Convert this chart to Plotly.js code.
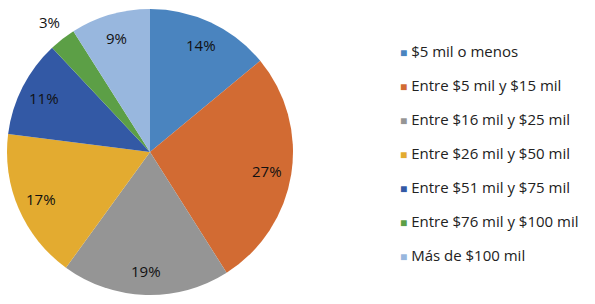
<!DOCTYPE html>
<html>
<head>
<meta charset="utf-8">
<script src="https://cdn.plot.ly/plotly-3.0.1.min.js"></script>
<style>html,body{margin:0;padding:0;background:#fff}#chart{width:595px;height:304px}</style>
</head>
<body>
<div id="chart"></div>
<script>
var categories = ["$5 mil o menos", "Entre $5 mil y $15 mil", "Entre $16 mil y $25 mil",
  "Entre $26 mil y $50 mil", "Entre $51 mil y $75 mil", "Entre $76 mil y $100 mil", "Más de $100 mil"];
var values = [14, 27, 19, 17, 11, 3, 9];
var colors = ["#4A84BF", "#D26B33", "#959595", "#E3AB30", "#3359A5", "#5C9F46", "#98B7DE"];

var W = 595, H = 304;
var cx = 150, cy = 152, R = 143;
var FONT = "'Open Sans', Lato, sans-serif";

var total = values.reduce(function(a, b){ return a + b; }, 0);
var annotations = [];
var cum = 0;
values.forEach(function(v, i){
  var mid = (cum + v / 2) / total * 2 * Math.PI;
  cum += v;
  var f = v < 5 ? 1.15 : 0.83;
  var px = cx + R * f * Math.sin(mid);
  var py = cy - R * f * Math.cos(mid);
  annotations.push({
    xref: "paper", yref: "paper", x: px / W, y: 1 - py / H,
    xanchor: "center", yanchor: "middle", showarrow: false,
    text: v + "%", font: {family: FONT, size: 15, color: "#111"}
  });
});

var legX = 398, legY0 = 51, legStep = 34;
categories.forEach(function(c, i){
  annotations.push({
    xref: "paper", yref: "paper", x: legX / W, y: 1 - (legY0 + i * legStep) / H,
    xanchor: "left", yanchor: "middle", showarrow: false,
    text: '<span style="color:' + colors[i] + ';font-size:12px">■</span> ' + c,
    font: {family: FONT, size: 15, color: "#222"}
  });
});

var trace = {
  type: "pie",
  labels: categories,
  values: values,
  sort: false,
  direction: "clockwise",
  rotation: 0,
  textinfo: "none",
  hoverinfo: "label+percent",
  showlegend: false,
  marker: {colors: colors, line: {width: 0}},
  domain: {x: [(cx - R) / W, (cx + R) / W], y: [1 - (cy + R) / H, 1 - (cy - R) / H]}
};

var layout = {
  width: W, height: H,
  margin: {l: 0, r: 0, t: 0, b: 0},
  paper_bgcolor: "#fff",
  showlegend: false,
  annotations: annotations
};

Plotly.newPlot("chart", [trace], layout, {displayModeBar: false, staticPlot: true});
</script>
</body>
</html>
